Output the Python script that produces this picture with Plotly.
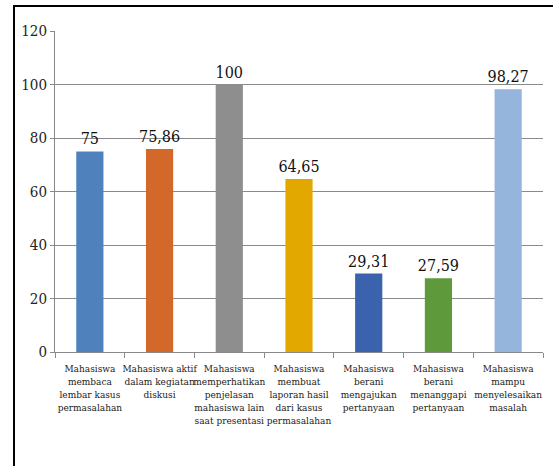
import plotly.graph_objects as go

categories = [
    "Mahasiswa<br>membaca<br>lembar kasus<br>permasalahan",
    "Mahasiswa aktif<br>dalam kegiatan<br>diskusi",
    "Mahasiswa<br>memperhatikan<br>penjelasan<br>mahasiswa lain<br>saat presentasi",
    "Mahasiswa<br>membuat<br>laporan hasil<br>dari kasus<br>permasalahan",
    "Mahasiswa<br>berani<br>mengajukan<br>pertanyaan",
    "Mahasiswa<br>berani<br>menanggapi<br>pertanyaan",
    "Mahasiswa<br>mampu<br>menyelesaikan<br>masalah",
]
values = [75, 75.86, 100, 64.65, 29.31, 27.59, 98.27]
colors = ["#4F81BD", "#D2692A", "#8E8E8E", "#E2A800", "#3B62AC", "#5E9A3C", "#95B5DD"]
labels = [f"{v:g}".replace(".", ",") for v in values]

SERIF = "DejaVu Serif Condensed, DejaVu Serif, serif"

fig = go.Figure(go.Bar(
    x=categories, y=values, marker=dict(color=colors, line=dict(width=0)),
    text=labels, textposition="outside", cliponaxis=False, constraintext="none",
    textangle=0,
    textfont=dict(family=SERIF, size=16, color="#111"),
))

fig.update_layout(
    width=553, height=466,
    margin=dict(l=55, r=10, t=31, b=114),
    paper_bgcolor="white", plot_bgcolor="white",
    bargap=0.61, showlegend=False,
    font=dict(family=SERIF, color="#222"),
    shapes=[dict(type="rect", xref="paper", yref="paper",
                 x0=-0.084, x1=1.1, y0=-0.5, y1=1.078,
                 line=dict(color="black", width=2), layer="above")],
)
fig.update_yaxes(range=[0, 120], dtick=20, showgrid=True, gridcolor="#8a8a8a", gridwidth=1,
                 showline=True, linecolor="#8a8a8a", linewidth=1,
                 ticks="outside", ticklen=4, tickcolor="#8a8a8a",
                 tickfont=dict(family=SERIF, size=15, color="#222"),
                 zeroline=False)
fig.update_xaxes(showline=True, linecolor="#8a8a8a", linewidth=1,
                 ticks="outside", tickson="boundaries", ticklen=5, tickcolor="#8a8a8a",
                 tickfont=dict(family=SERIF, size=10, color="#222"),
                 ticklabelstandoff=7, tickangle=0)

fig.write_html("out.html")
